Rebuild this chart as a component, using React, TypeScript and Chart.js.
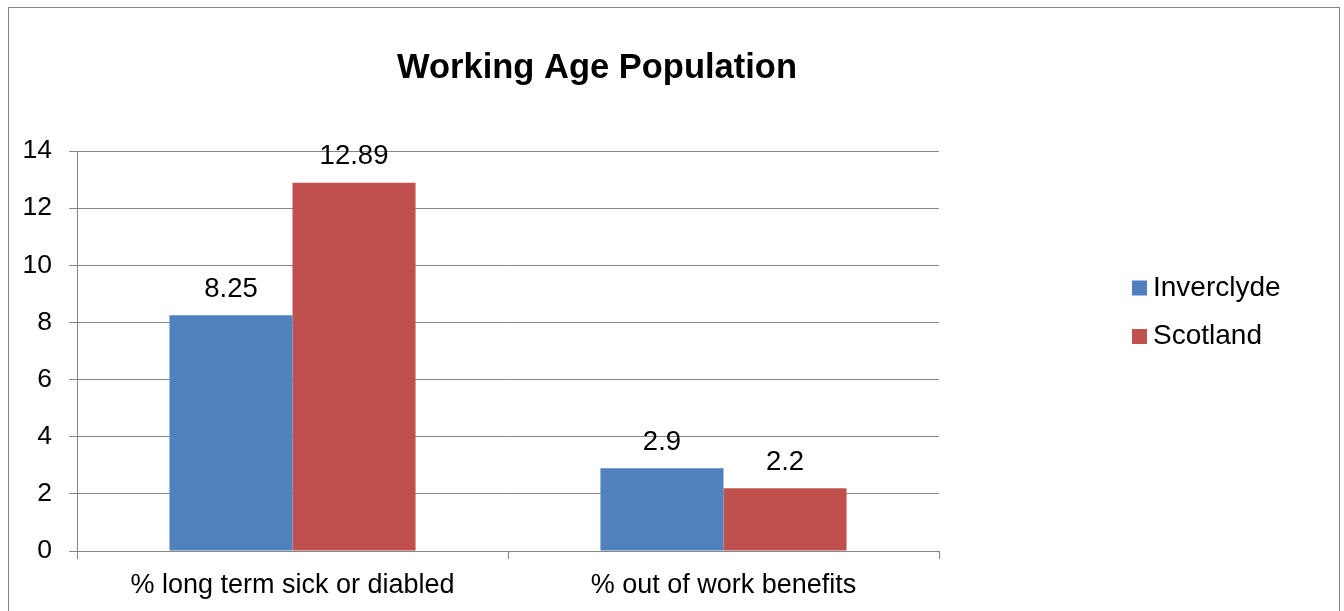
import { useEffect, useRef } from 'react';
import { Chart, registerables } from 'chart.js';

Chart.register(...registerables);

const categories = ['% long term sick or diabled', '% out of work benefits'];
const seriesNames = ['Inverclyde', 'Scotland'];
const inverclydeValues = [8.25, 2.9];
const scotlandValues = [12.89, 2.2];
const yTicks = [0, 2, 4, 6, 8, 10, 12, 14];
const chartTitle = 'Working Age Population';
const seriesColors = ['#4F81BD', '#C0504D'];

const FONT = '"Liberation Sans", Arial, sans-serif';
const GRID = '#868686';

const titlePlugin = {
  id: 'customTitle',
  afterDraw(chart: any) {
    const ctx = chart.ctx;
    ctx.save();
    ctx.font = `bold 34.5px ${FONT}`;
    ctx.fillStyle = '#000';
    ctx.textAlign = 'center';
    ctx.textBaseline = 'middle';
    ctx.fillText(chartTitle, 588, 60);
    ctx.restore();
  },
};

const dataLabelPlugin = {
  id: 'dataLabels',
  afterDatasetsDraw(chart: any) {
    const ctx = chart.ctx;
    ctx.save();
    ctx.font = `27.5px ${FONT}`;
    ctx.fillStyle = '#000';
    ctx.textAlign = 'center';
    ctx.textBaseline = 'middle';
    chart.data.datasets.forEach((ds: any, i: number) => {
      const meta = chart.getDatasetMeta(i);
      meta.data.forEach((el: any, j: number) => {
        ctx.fillText(String(ds.data[j]), el.x, el.y - 26);
      });
    });
    ctx.restore();
  },
};

const legendPlugin = {
  id: 'customLegend',
  afterDraw(chart: any) {
    const ctx = chart.ctx;
    ctx.save();
    ctx.font = `28px ${FONT}`;
    ctx.textAlign = 'left';
    ctx.textBaseline = 'middle';
    chart.data.datasets.forEach((ds: any, i: number) => {
      const cy = 280 + i * 48.5;
      ctx.fillStyle = ds.backgroundColor;
      ctx.fillRect(1123, cy - 7.5, 15, 15);
      ctx.fillStyle = '#000';
      ctx.fillText(ds.label, 1144, cy);
    });
    ctx.restore();
  },
};

export default function App() {
  const ref = useRef<HTMLCanvasElement | null>(null);

  useEffect(() => {
    if (!ref.current) return;
    const chart = new Chart(ref.current, {
      type: 'bar',
      data: {
        labels: categories,
        datasets: [
          {
            label: seriesNames[0],
            data: inverclydeValues,
            backgroundColor: seriesColors[0],
            borderWidth: 0,
            barPercentage: 1,
            categoryPercentage: 0.571,
          },
          {
            label: seriesNames[1],
            data: scotlandValues,
            backgroundColor: seriesColors[1],
            borderWidth: 0,
            barPercentage: 1,
            categoryPercentage: 0.571,
          },
        ],
      },
      options: {
        responsive: false,
        animation: false,
        events: [],
        layout: { padding: { left: 0, right: 400, top: 143, bottom: 10 } },
        plugins: {
          legend: { display: false },
          title: { display: false },
          tooltip: { enabled: false },
        },
        scales: {
          x: {
            offset: true,
            grid: {
              display: true,
              drawOnChartArea: false,
              drawTicks: true,
              tickLength: 8,
              color: GRID,
              offset: true,
            },
            border: { color: GRID, width: 1 },
            ticks: {
              font: { family: FONT, size: 27 },
              color: '#000',
              padding: 10,
              maxRotation: 0,
              autoSkip: false,
            },
            afterFit: (s: any) => {
              s.height = 50;
            },
          },
          y: {
            min: 0,
            max: 14,
            grid: {
              color: GRID,
              drawTicks: true,
              tickLength: 8,
              lineWidth: 1,
            },
            border: { color: GRID, width: 1 },
            ticks: {
              font: { family: FONT, size: 26.5 },
              color: '#000',
              padding: 17,
            },
            afterBuildTicks: (axis: any) => {
              axis.ticks = yTicks.map((v) => ({ value: v }));
            },
            afterFit: (s: any) => {
              s.width = 68;
            },
          },
        },
      },
      plugins: [titlePlugin, dataLabelPlugin, legendPlugin],
    });
    return () => chart.destroy();
  }, []);

  return (
    <div
      style={{
        position: 'fixed',
        left: 8,
        top: 7,
        width: 1332,
        height: 640,
        boxSizing: 'border-box',
        border: `1px solid ${GRID}`,
        background: '#fff',
      }}
    >
      <canvas ref={ref} width={1330} height={603} style={{ display: 'block' }} />
    </div>
  );
}
